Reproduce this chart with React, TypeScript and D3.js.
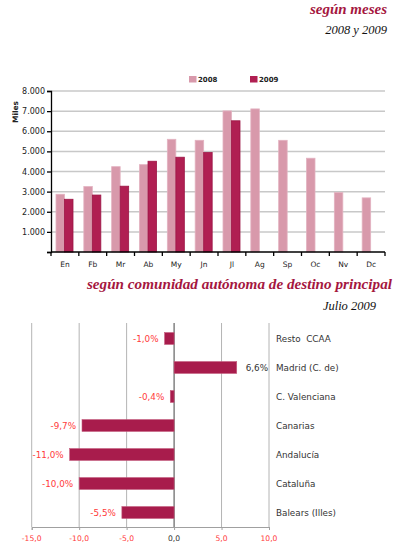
import { useEffect, useRef } from "react";
import * as d3 from "d3";

const months = ["En", "Fb", "Mr", "Ab", "My", "Jn", "Jl", "Ag", "Sp", "Oc", "Nv", "Dc"];
const series = ["2008", "2009"];
const values2008 = [2870, 3250, 4240, 4340, 5600, 5550, 7010, 7110, 5550, 4660, 2950, 2690];
const values2009 = [2620, 2830, 3270, 4510, 4710, 4940, 6520];
const yTicks = [1000, 2000, 3000, 4000, 5000, 6000, 7000, 8000];

const regions = [
  "Resto  CCAA",
  "Madrid (C. de)",
  "C. Valenciana",
  "Canarias",
  "Andalucía",
  "Cataluña",
  "Balears (Illes)",
];
const changes = [-1.0, 6.6, -0.4, -9.7, -11.0, -10.0, -5.5];
const xTicks = [-15, -10, -5, 0, 5, 10];

const CRIMSON = "#a5173f";
const PINK = "#d899ab";
const DARK = "#b01f52";
const RED_TEXT = "#ff3b3b";
const font = "'DejaVu Sans', Verdana, sans-serif";
const serif = "'Liberation Serif', 'Times New Roman', serif";

const fmt = (v: number) => v.toFixed(1).replace(".", ",");
const fmtThousands = (v: number) => d3.format(",")(v).replace(",", ".");

const App = () => {
  const svgRef = useRef<SVGSVGElement>(null);

  useEffect(() => {
    if (!svgRef.current) return;
    const svg = d3.select(svgRef.current);
    svg.selectAll("*").remove();

    // titles
    const title = (txt: string, x: number, y: number, size: number, color: string, bold: boolean) =>
      svg
        .append("text")
        .attr("x", x)
        .attr("y", y)
        .attr("text-anchor", "end")
        .style("font-family", serif)
        .style("font-style", "italic")
        .style("font-weight", bold ? "bold" : "normal")
        .style("font-size", `${size}px`)
        .attr("fill", color)
        .text(txt);

    title("según meses", 387, 14, 15, CRIMSON, true);
    title("2008 y 2009", 387, 34, 12.5, "#111", false);
    title("según comunidad autónoma de destino principal", 392, 289, 15.2, CRIMSON, true);
    title("Julio 2009", 376, 310, 12.5, "#111", false);

    // ---- monthly chart ----
    const x0 = d3.scaleBand().domain(months).range([51, 385]).padding(0);
    const x1 = d3.scaleBand().domain(series).range([5, 22]).padding(0);
    const y = d3.scaleLinear().domain([0, 8000]).range([252, 91]);

    const top = svg.append("g");

    top
      .selectAll(".grid")
      .data(yTicks)
      .join("line")
      .attr("class", "grid")
      .attr("x1", 51)
      .attr("x2", 385)
      .attr("y1", (d) => y(d))
      .attr("y2", (d) => y(d))
      .attr("stroke", "#c8c8c8")
      .attr("stroke-width", 1.5);

    const bars = [
      { key: "2008", vals: values2008, fill: PINK, stroke: "#e3b2c0" },
      { key: "2009", vals: values2009, fill: DARK, stroke: "#9c1545" },
    ];
    bars.forEach((s) => {
      top
        .selectAll(`.bar${s.key}`)
        .data(s.vals)
        .join("rect")
        .attr("class", `bar${s.key}`)
        .attr("x", (_, i) => (x0(months[i]) ?? 0) + (x1(s.key) ?? 0))
        .attr("y", (d) => y(d))
        .attr("width", x1.bandwidth())
        .attr("height", (d) => y(0) - y(d))
        .attr("fill", s.fill)
        .attr("stroke", s.stroke)
        .attr("stroke-width", 0.8);
    });

    // y axis
    top
      .append("g")
      .attr("transform", "translate(51,0)")
      .call(d3.axisLeft(y).tickValues([0, ...yTicks]).tickSize(4).tickFormat(() => ""))
      .call((g) => g.selectAll("line,path").attr("stroke", "#000").attr("stroke-width", 1.3));

    top
      .selectAll(".ylab")
      .data(yTicks)
      .join("text")
      .attr("class", "ylab")
      .attr("x", 45)
      .attr("y", (d) => y(d) + 3)
      .attr("text-anchor", "end")
      .style("font-family", font)
      .style("font-size", "8px")
      .attr("fill", "#222")
      .text((d) => fmtThousands(d));

    top
      .append("text")
      .attr("transform", "translate(18,112) rotate(-90)")
      .attr("text-anchor", "middle")
      .style("font-family", font)
      .style("font-size", "7.5px")
      .style("font-weight", "bold")
      .attr("fill", "#222")
      .text("Miles");

    // x axis
    const xLine = top.append("g").attr("transform", `translate(0,${y(0)})`);
    xLine
      .append("line")
      .attr("x1", 51)
      .attr("x2", 385)
      .attr("stroke", "#000")
      .attr("stroke-width", 1.3);
    xLine
      .selectAll(".xt")
      .data(d3.range(months.length + 1))
      .join("line")
      .attr("class", "xt")
      .attr("x1", (i) => 51 + i * x0.step())
      .attr("x2", (i) => 51 + i * x0.step())
      .attr("y1", 0)
      .attr("y2", 4)
      .attr("stroke", "#000")
      .attr("stroke-width", 1.3);
    xLine
      .selectAll(".xl")
      .data(months)
      .join("text")
      .attr("class", "xl")
      .attr("x", (d) => (x0(d) ?? 0) + x0.bandwidth() / 2)
      .attr("y", 15)
      .attr("text-anchor", "middle")
      .style("font-family", font)
      .style("font-size", "7.5px")
      .attr("fill", "#222")
      .text((d) => d);

    // legend
    const legend = top.append("g");
    [
      { key: "2008", x: 189, fill: PINK },
      { key: "2009", x: 250, fill: DARK },
    ].forEach((l) => {
      legend
        .append("rect")
        .attr("x", l.x)
        .attr("y", 76)
        .attr("width", 7.5)
        .attr("height", 6.5)
        .attr("fill", l.fill);
      legend
        .append("text")
        .attr("x", l.x + 9)
        .attr("y", 82)
        .style("font-family", font)
        .style("font-size", "7px")
        .style("font-weight", "bold")
        .attr("fill", "#222")
        .text(l.key);
    });

    // ---- regions chart ----
    const xr = d3.scaleLinear().domain([-15, 10]).range([31.7, 269]);
    const yr = d3.scaleBand().domain(regions).range([324, 527]).paddingInner(0.59).paddingOuter(0.295);
    const bottom = svg.append("g");

    bottom
      .selectAll(".vgrid")
      .data(xTicks)
      .join("line")
      .attr("class", "vgrid")
      .attr("x1", (d) => xr(d))
      .attr("x2", (d) => xr(d))
      .attr("y1", 323)
      .attr("y2", 527)
      .attr("stroke", (d) => (d === 0 ? "#444" : "#b4b4b4"))
      .attr("stroke-width", 1);

    bottom
      .append("g")
      .attr("transform", "translate(0,527)")
      .call(d3.axisBottom(xr).tickValues(xTicks).tickSize(3).tickFormat(() => ""))
      .call((g) => g.selectAll("line,path").attr("stroke", "#a0a0a0"));

    bottom
      .selectAll(".xrl")
      .data(xTicks)
      .join("text")
      .attr("class", "xrl")
      .attr("x", (d) => xr(d))
      .attr("y", 541)
      .attr("text-anchor", "middle")
      .style("font-family", font)
      .style("font-size", "7.6px")
      .attr("fill", (d) => (d === 0 ? "#333" : RED_TEXT))
      .text((d) => fmt(d));

    bottom
      .selectAll(".rbar")
      .data(changes)
      .join("rect")
      .attr("class", "rbar")
      .attr("x", (d) => xr(Math.min(0, d)))
      .attr("y", (_, i) => yr(regions[i]) ?? 0)
      .attr("width", (d) => Math.abs(xr(d) - xr(0)))
      .attr("height", yr.bandwidth())
      .attr("fill", "#a81c4c")
      .attr("stroke", "#c45a7c")
      .attr("stroke-width", 0.6);

    bottom
      .selectAll(".rval")
      .data(changes)
      .join("text")
      .attr("class", "rval")
      .attr("x", (d) => (d < 0 ? xr(d) - 6 : xr(d) + 9))
      .attr("y", (_, i) => (yr(regions[i]) ?? 0) + yr.bandwidth() / 2 + 3)
      .attr("text-anchor", (d) => (d < 0 ? "end" : "start"))
      .style("font-family", font)
      .style("font-size", "8.8px")
      .attr("fill", (d) => (d < 0 ? RED_TEXT : "#333"))
      .text((d) => `${fmt(d)}%`);

    bottom
      .selectAll(".rname")
      .data(regions)
      .join("text")
      .attr("class", "rname")
      .attr("x", 276)
      .attr("y", (d) => (yr(d) ?? 0) + yr.bandwidth() / 2 + 3)
      .style("font-family", font)
      .style("font-size", "8.8px")
      .style("white-space", "pre")
      .attr("fill", "#333")
      .text((d) => d);
  }, []);

  return (
    <svg
      ref={svgRef}
      width={400}
      height={544}
      style={{ position: "absolute", left: 0, top: 0, background: "#fff" }}
    />
  );
};

export default App;
